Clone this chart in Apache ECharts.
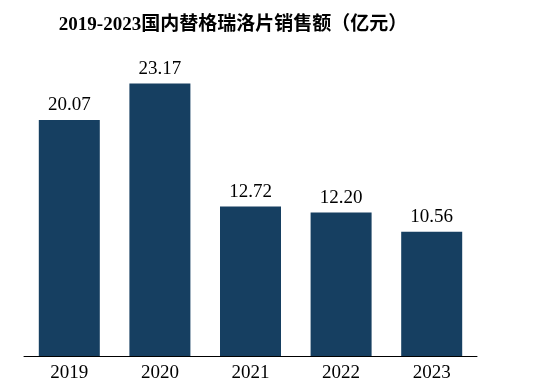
<!DOCTYPE html>
<html><head><meta charset="utf-8">
<script src="https://cdn.jsdelivr.net/npm/echarts@6/dist/echarts.min.js"></script>
<style>html,body{margin:0;padding:0;background:#fff}#c{width:548px;height:388px}</style>
</head><body><div id="c"></div>
<script>
var years = ['2019','2020','2021','2022','2023'];
var sales = [20.07, 23.17, 12.72, 12.20, 10.56];
var titleText = '2019-2023国内替格瑞洛片销售额（亿元）';
var chart = echarts.init(document.getElementById('c'), null, {renderer:'canvas'});
chart.setOption({
  backgroundColor:'#fff',
  animation:false,
  title:{text:titleText,left:228,top:11,textAlign:'center',
    textStyle:{fontFamily:'"Liberation Serif","Noto Sans CJK SC",serif',fontSize:19,fontWeight:'bold',color:'#000'}},
  grid:{left:24,right:71,top:62,bottom:32},
  xAxis:{type:'category',data:years,
    axisLine:{lineStyle:{color:'#000',width:1}},axisTick:{show:false},
    axisLabel:{color:'#000',fontSize:19,margin:8,fontFamily:'"Liberation Serif",serif'}},
  yAxis:{type:'value',min:0,max:25,show:false,splitLine:{show:false}},
  series:[{type:'bar',data:sales,barWidth:61,
    itemStyle:{color:'#163f61'},
    label:{show:true,position:'top',distance:5,color:'#000',fontSize:19,fontFamily:'"Liberation Serif",serif',
      formatter:function(p){return p.value.toFixed(2);}}}]
});
</script></body></html>
